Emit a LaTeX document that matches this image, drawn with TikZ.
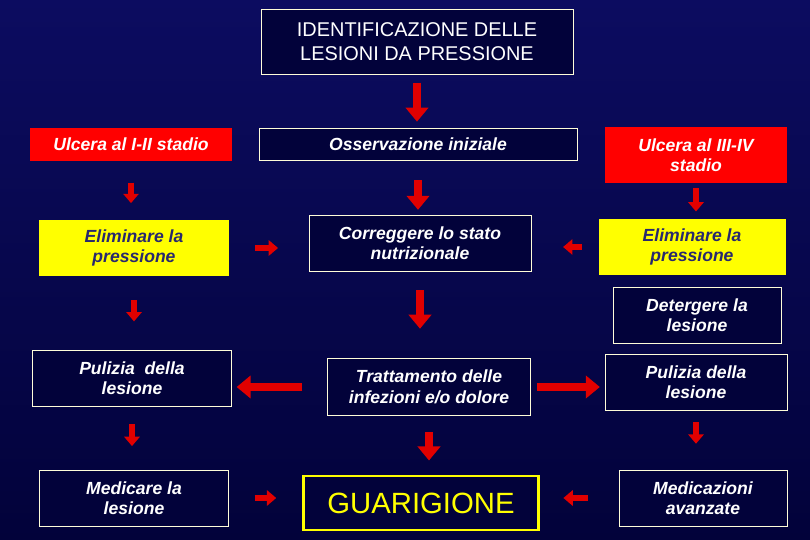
\documentclass[tikz,border=0pt]{standalone}
\usepackage{fontspec}
\setmainfont{Liberation Sans}
\usetikzlibrary{arrows.meta}
\definecolor{navytop}{RGB}{12,12,96}
\definecolor{navybot}{RGB}{2,2,58}
\definecolor{boxred}{RGB}{255,0,0}
\definecolor{boxyel}{RGB}{255,255,0}
\definecolor{txtblue}{RGB}{40,40,110}
\definecolor{arrred}{RGB}{225,0,0}
\tikzset{
  box/.style={draw=white!85!yellow, line width=0.8pt, fill=navybot, text=white,
    align=center, inner sep=0pt, font=\fontsize{15}{17.5}\selectfont\bfseries\itshape},
  redbox/.style={box, draw=none, fill=boxred},
  yelbox/.style={box, draw=none, fill=boxyel, text=txtblue},
  arr/.style={draw=arrred, line width=4.5pt, -{Triangle[width=13pt,length=8pt]}},
  bigarr/.style={draw=arrred, line width=7pt, -{Triangle[width=19pt,length=12pt]}},
}
\begin{document}
\begin{tikzpicture}[x=0.03cm,y=-0.03cm]
  \shade[top color=navytop, bottom color=navybot] (0,0) rectangle (810,540);
  \useasboundingbox (0,0) rectangle (810,540);

  % boxes
  \node[box, font=\fontsize{17}{20}\selectfont, minimum width=312*0.03cm, minimum height=65*0.03cm]
    (title) at (417,41.5) {IDENTIFICAZIONE DELLE\\LESIONI DA PRESSIONE};
  \node[redbox, minimum width=202*0.03cm, minimum height=33*0.03cm] (u1) at (131,144.5) {Ulcera al I-II stadio};
  \node[box, minimum width=318*0.03cm, minimum height=32*0.03cm] (oss) at (418,144) {Osservazione iniziale};
  \node[redbox, minimum width=182*0.03cm, minimum height=56*0.03cm] (u2) at (696,155) {Ulcera al III-IV\\stadio};
  \node[yelbox, minimum width=190*0.03cm, minimum height=56*0.03cm] (e1) at (134,248) {Eliminare la\\pressione};
  \node[box, minimum width=222*0.03cm, minimum height=56*0.03cm] (corr) at (420,243) {Correggere lo stato\\nutrizionale};
  \node[yelbox, minimum width=187*0.03cm, minimum height=56*0.03cm] (e2) at (692,247) {Eliminare la\\pressione};
  \node[box, minimum width=168*0.03cm, minimum height=56*0.03cm] (det) at (697,315) {Detergere la\\lesione};
  \node[box, minimum width=199*0.03cm, minimum height=56*0.03cm] (p1) at (132,378) {Pulizia\ \ della\\lesione};
  \node[box, minimum width=203*0.03cm, minimum height=57*0.03cm] (tratt) at (429,387) {Trattamento delle\\infezioni e/o dolore};
  \node[box, minimum width=182*0.03cm, minimum height=56*0.03cm] (p2) at (696,382) {Pulizia della\\lesione};
  \node[box, minimum width=189*0.03cm, minimum height=56*0.03cm] (med) at (134,498) {Medicare la\\lesione};
  \node[box, draw=boxyel, line width=2.5pt, text=boxyel, font=\fontsize{25}{28}\selectfont,
    minimum width=235*0.03cm, minimum height=54*0.03cm] (guar) at (421,503) {GUARIGIONE};
  \node[box, minimum width=168*0.03cm, minimum height=56*0.03cm] (medz) at (703,498) {Medicazioni\\avanzate};

  % arrows
  \draw[bigarr, shorten <=7pt, shorten >=5pt] (title.south) -- (title.south |- oss.north);
  \draw[arr, shorten <=18pt, shorten >=14pt] (u1.south) -- (u1.south |- e1.north);
  \draw[bigarr, shorten <=17pt, shorten >=4pt] (oss.south) -- (oss.south |- corr.north);
  \draw[arr, shorten <=4pt, shorten >=6pt] (u2.south) -- (u2.south |- e2.north);
  \draw[arr, shorten <=22pt, shorten >=26pt] (e1.east) -- (e1.east -| corr.west);
  \draw[arr, shorten <=14pt, shorten >=27pt] (e2.west) -- (e2.west -| corr.east);
  \draw[arr, shorten <=20pt, shorten >=24pt] (e1.south) -- (e1.south |- p1.north);
  \draw[bigarr, shorten <=16pt, shorten >=25pt] (corr.south) -- (corr.south |- tratt.north);
  \draw[bigarr, shorten <=21pt, shorten >=4pt] (tratt.west) -- (tratt.west -| p1.east);
  \draw[bigarr, shorten <=5pt, shorten >=4pt] (tratt.east) -- (tratt.east -| p2.west);
  \draw[arr, shorten <=15pt, shorten >=20pt] (p1.south) -- (p1.south |- med.north);
  \draw[bigarr, shorten <=14pt, shorten >=12pt] (tratt.south) -- (tratt.south |- guar.north);
  \draw[arr, shorten <=10pt, shorten >=22pt] (p2.south) -- (p2.south |- medz.north);
  \draw[arr, shorten <=22pt, shorten >=22pt] (med.east) -- (med.east -| guar.west);
  \draw[arr, shorten <=26pt, shorten >=20pt] (medz.west) -- (medz.west -| guar.east);
\end{tikzpicture}
\end{document}
